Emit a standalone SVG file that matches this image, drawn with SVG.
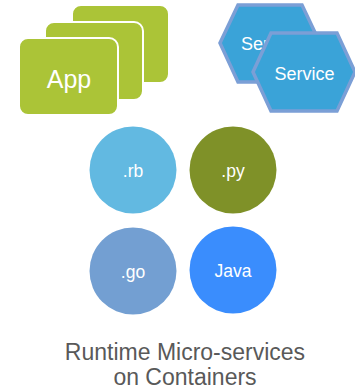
<svg xmlns="http://www.w3.org/2000/svg" width="355" height="391" viewBox="0 0 355 391">
<style>
.app{fill:#abc437;stroke:#fff;stroke-width:2}
.hex{fill:#3aa3d8;stroke:#7b9fd6;stroke-width:3.5}
.t{font-family:"Liberation Sans",Arial,sans-serif;fill:#fff;text-anchor:middle}
.c{font-size:17.5px}
.cap{font-family:"Liberation Sans",Arial,sans-serif;fill:#595959;text-anchor:middle;font-size:23px}
</style>
<rect width="355" height="391" fill="#fff"/>
<g id="apps">
<rect class="app" x="72" y="5" width="97" height="78" rx="9"/>
<rect class="app" x="45" y="22" width="98" height="78" rx="9"/>
<rect class="app" x="19" y="38" width="99" height="77" rx="9"/>
<text class="t" x="69" y="88" font-size="25">App</text>
</g>
<g id="service1">
<polygon class="hex" points="220,43 238,5 302,5 320,43 302,82 238,82"/>
<text class="t" x="271" y="50" font-size="18">Service</text>
</g>
<g id="service2">
<polygon class="hex" points="253,72 271,33 337,33 355,72 337,111 271,111"/>
<text class="t" x="304.5" y="80" font-size="18">Service</text>
</g>
<g id="rb">
<circle cx="133" cy="170" r="43.5" fill="#62b9e1"/>
<text class="t c" x="133" y="177">.rb</text>
</g>
<g id="py">
<circle cx="233" cy="170" r="43.5" fill="#7f9128"/>
<text class="t c" x="233" y="177">.py</text>
</g>
<g id="go">
<circle cx="133" cy="271" r="43.5" fill="#739fd2"/>
<text class="t c" x="133" y="278">.go</text>
</g>
<g id="java">
<circle cx="233" cy="270" r="43.5" fill="#3a8dfd"/>
<text class="t c" x="233" y="277">Java</text>
</g>
<g id="connectors"/>
<g id="caption">
<text class="cap" x="185" y="360">Runtime Micro-services</text>
<text class="cap" x="185" y="385">on Containers</text>
</g>
</svg>
